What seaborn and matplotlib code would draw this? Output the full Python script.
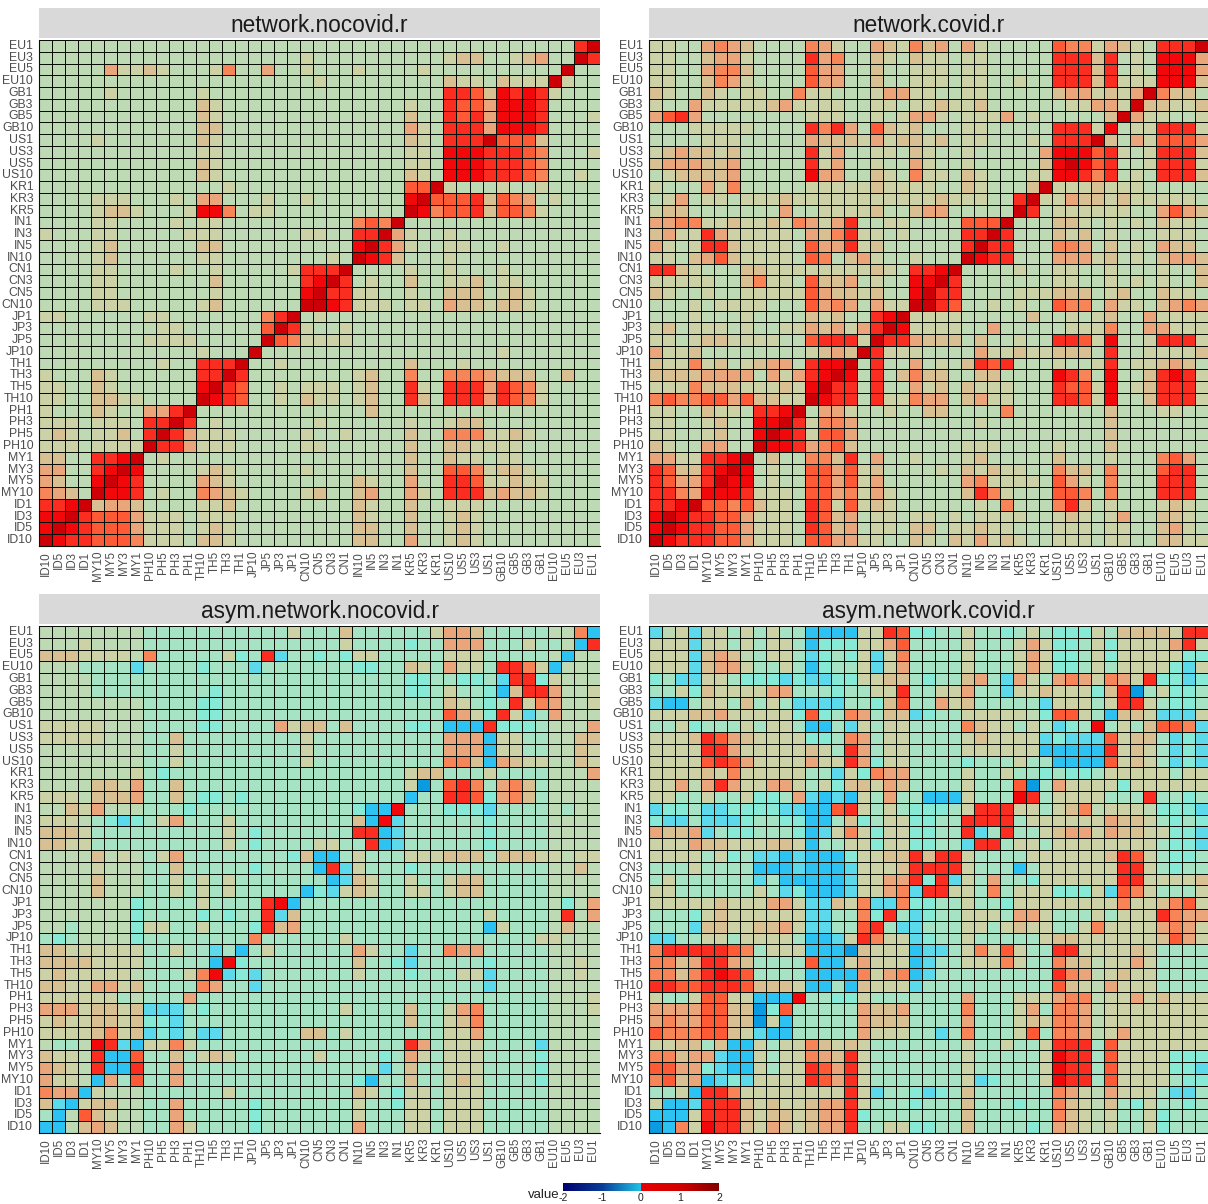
import numpy as np
import pandas as pd
import seaborn as sns
import matplotlib.pyplot as plt
from matplotlib.cm import ScalarMappable
from matplotlib.colors import LinearSegmentedColormap, Normalize, to_hex

# row labels, top to bottom. the x axis is the same list reversed
LABELS = ["EU1", "EU3", "EU5", "EU10", "GB1", "GB3", "GB5", "GB10", "US1", "US3", "US5", "US10",
          "KR1", "KR3", "KR5", "IN1", "IN3", "IN5", "IN10", "CN1", "CN3", "CN5", "CN10",
          "JP1", "JP3", "JP5", "JP10", "TH1", "TH3", "TH5", "TH10", "PH1", "PH3", "PH5", "PH10",
          "MY1", "MY3", "MY5", "MY10", "ID1", "ID3", "ID5", "ID10"]

# cell values, one character per cell, spaces split the country groups
CODES = {"e": -0.6, "d": -0.4, "c": -0.25, "b": -0.12, "a": -0.05, "0": 0.0, "1": 0.05, "2": 0.12,
         "3": 0.2, "4": 0.3, "5": 0.4, "6": 0.55, "7": 0.7, "8": 0.9}

NETWORK_NOCOVID = [
    "0000 0000 0000 0000 0000 0000 0000 000 0000 0000 0068",
    "0000 0000 0000 0000 0000 1000 0000 000 1220 0123 0086",
    "0000 0311 2100 0140 0300 1000 1000 010 0000 0000 0800",
    "0000 0000 0000 0000 0000 0100 0000 000 2110 2111 8100",
    "0000 0100 0000 1000 0000 0000 0000 000 6652 7676 1000",
    "0000 0000 0000 2100 0000 0000 0000 100 6553 7776 0000",
    "0000 0000 0000 2100 0000 0000 0000 200 6563 7776 0001",
    "0000 0000 0000 2200 0000 0000 0000 310 6663 7776 0000",
    "0000 1000 0000 2100 0000 0000 0000 210 6668 5552 0000",
    "0000 0000 0000 1100 0000 0000 0000 110 7776 6654 0001",
    "0000 0000 0000 2100 0000 0000 0000 110 7776 6654 0000",
    "0000 0000 0000 2100 0000 0000 0000 210 7776 6654 0010",
    "0000 0000 0000 0010 0000 0000 0000 558 1000 1001 0000",
    "0000 1110 0010 3300 0100 1000 0000 785 5562 5430 1000",
    "0000 1221 0001 7740 1100 0000 0000 874 5562 5541 0000",
    "0000 1100 0010 1100 0000 0000 4548 000 0000 0000 0000",
    "1000 1100 0001 1100 0000 1100 6683 100 1000 0000 0000",
    "0000 1200 0000 2200 0000 0000 7863 100 1100 1000 0000",
    "0000 1200 0000 1100 0000 0010 8762 000 1000 0000 0000",
    "0000 1100 0010 0100 0001 6668 0000 100 1000 1000 0000",
    "0000 1100 0000 0200 0000 6786 0100 200 1120 1100 0000",
    "0000 1100 0000 0100 0000 7866 1100 100 2220 1210 0000",
    "0000 1110 0000 1200 0000 8876 1110 110 3221 2210 0000",
    "1100 0000 1100 0000 0468 0100 0000 000 0000 0000 0000",
    "0000 0000 0110 0000 0586 1001 0000 000 0000 0000 0000",
    "0000 0000 1111 0000 0854 1111 0000 000 0000 0000 0000",
    "0000 0000 0000 1000 8000 0000 0000 000 0000 1000 0000",
    "0000 0000 0100 6668 0010 0000 0000 200 0100 0000 0000",
    "1000 2100 0000 6686 0000 0000 1200 400 4443 2220 0200",
    "1100 2100 0000 7865 0010 1110 1200 610 6663 6541 0000",
    "1100 2211 0000 8765 0010 2110 1200 620 6663 6541 0000",
    "1000 2100 3368 0000 0000 0000 0200 000 0000 0000 0000",
    "1110 1110 6686 0100 0000 0100 0000 100 1220 0000 0000",
    "1210 1120 6863 1110 0000 1001 0000 200 4441 1210 0000",
    "1110 1111 8663 1110 0000 1100 0000 200 2211 1100 0000",
    "2200 6678 0100 0000 0000 0000 0000 200 2110 1100 0000",
    "3300 6787 0000 1210 0000 1000 0000 200 5541 2210 0000",
    "3200 7876 0000 3210 0000 0000 2100 300 6651 1211 0000",
    "4320 8776 0100 4321 0000 1200 2300 310 6662 3221 0000",
    "6678 2332 0000 1120 0000 0000 2100 200 1110 0000 0000",
    "7786 5553 1110 1110 0000 0000 2100 200 1210 0000 0000",
    "7876 5553 1110 1210 0000 0000 2200 200 1210 0000 0000",
    "8766 5554 1110 2210 0000 0000 2200 300 1210 0000 0000",
]

NETWORK_COVID = [
    "1100 3432 0000 4310 0321 4230 3100 000 5441 3210 6668",
    "1100 2331 0000 6340 0210 2110 1100 000 6662 6010 7773",
    "1100 3442 0000 5330 0200 1110 1100 000 6662 6010 7773",
    "1100 2431 0000 5330 0200 1110 1100 100 6662 6111 7772",
    "2100 2101 1004 1100 0133 1100 1100 000 2331 2138 4220",
    "1003 1111 1231 1110 0110 1121 1200 000 0113 3182 2112",
    "3563 0000 0000 1110 0101 3310 1113 010 0000 2831 1001",
    "0001 1111 0000 6463 0521 2000 1100 000 6661 7011 6661",
    "0000 1110 0000 3222 1312 2120 1100 010 6668 2031 5553",
    "1232 2120 0000 6130 0110 2100 1000 003 7775 6101 6662",
    "2333 2230 0000 6130 0100 3100 1000 002 7875 6001 6661",
    "0122 2230 0000 7330 0210 4110 2100 011 7764 6010 6662",
    "1000 3140 0000 1111 1211 1100 2100 028 1112 1110 0000",
    "0130 1101 1121 1111 1111 1121 1100 681 1322 1211 1110",
    "1220 0000 0030 0111 1200 2330 0000 860 1111 1100 3532",
    "3344 1121 1214 3136 0011 0000 5558 000 2210 1010 2110",
    "2311 6311 1110 3246 1101 0000 6686 000 2120 1000 1110",
    "3101 6621 1110 5336 1200 0000 6866 000 4430 2010 3220",
    "1102 3521 1110 5402 3100 1000 8766 000 3331 2010 2332",
    "6621 0002 2111 1111 1210 6678 0000 100 1100 1000 1002",
    "1111 1002 4110 5223 0100 7786 0000 000 1100 1010 1002",
    "2100 1001 1111 5322 1200 7866 0000 111 2220 1200 2110",
    "0001 0111 1000 5343 0311 8865 0010 100 5440 3110 2343",
    "0001 0001 0000 2120 0678 1111 0000 020 0101 2003 1111",
    "1201 1101 0011 3231 3687 1111 0030 000 0111 4003 3111",
    "1101 2211 1100 5666 1866 3222 0200 100 6651 7001 6661",
    "3112 0000 0000 1232 8611 1000 0311 211 2220 6001 1112",
    "2114 1201 2330 6778 0600 3010 2656 000 1001 6011 2320",
    "2222 3333 0313 6787 0602 4220 0220 000 7640 7002 6761",
    "1114 2221 1121 7866 0600 3120 2111 000 6551 7012 6661",
    "4544 5535 2211 8766 0611 4330 2311 000 6651 7002 6661",
    "1100 2110 6678 0331 0010 0220 0004 000 0000 2000 1100",
    "1100 1200 7786 1443 0000 0000 0100 000 0000 2000 0000",
    "1100 1200 7876 1553 0000 0000 0000 000 0000 2000 0000",
    "2100 3300 8776 3452 0000 0000 1110 000 1000 2000 0000",
    "3311 6678 0200 4426 0300 1000 1200 000 2000 1000 4530",
    "6522 6787 0100 5535 1200 0010 2121 100 4220 4000 5660",
    "6533 6877 0100 5535 1300 0000 3411 110 5310 4000 6660",
    "6643 7776 1110 5534 1310 0000 2641 000 5540 4000 6660",
    "6678 5545 2110 6515 1210 0000 0104 000 4620 1000 1210",
    "7876 6553 1110 6523 0110 1101 0111 100 1210 1300 2210",
    "7876 6553 1110 6523 0110 2201 1211 000 1110 1100 2310",
    "8766 6553 1110 5533 1100 2102 1312 100 1110 1100 2211",
]

ASYM_NOCOVID = [
    "0000 0000 aaaa aaaa aaa1 aaa2 aaaa aa1 332a aaaa 004d",
    "0001 0000 aaaa aaaa aaaa aaa1 aaaa baa 333a aa1a a0d6",
    "2221 1110 4aaa aa1b a6ca abab 11aa aaa 111a aaaa 0d00",
    "000a aaac aaaa baaa caaa aaaa bbaa 21a 311a 6641 d000",
    "0000 aaaa aaaa aaaa aaaa aaaa aaaa bba abba c66b 1000",
    "0000 aaaa aaaa abaa aaaa aaaa aaaa bba 1aab d266 3001",
    "0000 0000 aaaa bbaa aaaa aaaa aaaa aaa 21ab a614 3001",
    "0000 0000 aaaa bbaa aaaa aaaa aaaa aaa 531b 61ca 3000",
    "1111 1000 aaaa bbaa aa31 22a2 aaaa bba ddd6 bbba 0003",
    "1111 1000 aa2a aaaa aaaa 1aaa aaaa aaa 333d 11aa 0022",
    "0000 0000 aa1a aaaa aaaa 1aaa aaaa aaa 333d 11aa 0021",
    "0000 0000 aa1a aaaa aaaa 1aaa aaaa aaa 442d 3211 0021",
    "0000 0001 abaa aaaa aaaa aaaa aaaa 122 aaa1 aaaa 0003",
    "0000 2213 aa2a aaaa aaaa aaaa aaaa 1ea 564a 342a 0000",
    "1110 2223 aa2a bbab aaaa aaaa aaaa daa 665b 342a 0000",
    "0021 3000 aaab aaaa aaaa aaaa bdd7 aaa bbbc aaaa 0a00",
    "1110 abcb a13a aa1a aaaa aaaa 2d7c aaa aaab aaaa 0000",
    "2221 aaaa aaaa aa1a baaa aaaa 66dc aaa aaab aaaa 0000",
    "2211 aaaa aaaa aa1a baaa a11a a6dc aaa aaab aaaa 0000",
    "0000 2010 a13a aaaa aaab 2dda 1aaa 111 222a 2221 1011",
    "0000 1000 aa2a aaaa baaa ad6c 1aaa baa aaaa aaaa 0020",
    "0000 2000 aa1a 1a1a aaaa aadc 21aa 1aa 122a aaaa 0000",
    "0000 2000 aa1a 1a1a aaaa dbc1 21aa 11a 122a aaaa 0000",
    "0000 000b aaaa 1aaa a67d aaaa aaaa aaa aaaa aaaa 0b03",
    "0000 000b aaaa baba a6c2 aaaa aaaa aaa aaa1 aaaa 0603",
    "00a0 000b 11aa 1aaa b623 aaaa aaaa aaa aaad 1aaa 0200",
    "aba0 000b aaaa aaaa 4aaa aaa1 aaaa aaa aaaa aaa1 1000",
    "2211 1111 aa1a acad a1aa aaaa 31aa caa 433a aaaa 0000",
    "2222 1111 aaaa ad7b aaaa aaaa 2aab caa aaab aaaa 0010",
    "1211 1110 aaa1 47cb caaa aaaa 1aaa baa a11c aaaa 0010",
    "2211 3312 aaaa 43aa caaa aaaa aaaa aaa aaac aaaa 0000",
    "1111 11a0 aaa3 aaaa aaaa aaaa aaaa aaa aaaa aaaa 0001",
    "3331 2212 ccca baaa aaaa aaa1 aaaa 2aa 134a aaaa 0001",
    "1211 2212 bbca aaaa aaaa aaaa aaaa 2aa 124a aaaa 0000",
    "1111 2412 cbca ccaa aaaa 22a1 aaaa aaa 113a aaaa 0000",
    "0aa0 76cd 1141 aaaa aaaa aaaa aaaa 63a 111a aaac 0000",
    "2110 6dd5 aa2a 121a aaaa a1aa aaba 31a 111a aaab 0000",
    "3210 6dd6 aa3a aaaa aaaa aaaa aaca 2aa 111a aaab 0000",
    "3110 d3a5 aa3a aaaa aaaa aaaa bdaa 2aa 121a aaab 0000",
    "433d 1000 aaaa aa1a aaaa aaaa 21ab 11a 111a aaaa 0000",
    "2cd1 2200 aa3a aaaa baaa aaaa 1aab 11a 111a aaaa 0000",
    "ad05 2100 aa3a aaaa baaa aaaa 1aaa 11a 111a aaaa 0000",
    "dd02 3200 aa31 aaaa baaa aaaa 3aaa 11a 111a aaaa 0000",
]

ASYM_COVID = [
    "c01c 11a1 a1aa dddd 1165 bbaa 1aab a1a bbb1 a222 2166",
    "111c 11a1 a11a dbbb 1135 aaaa 1aaa 131 bba1 b111 1361",
    "111c 2320 a11a cbab 1c14 aaaa 1aaa 131 bba1 b111 11bb",
    "111c 2331 aa1a dbaa 1c13 aaaa 1aaa 131 bba1 a111 1bc1",
    "bacc 11ab bbcb ccbb 1122 abaa 23ac 31a 3431 4316 bbcb",
    "aa1b 2111 133a aaba a116 aa11 3aac 112 111b 26ea 1bba",
    "cdda 11a2 a1ac ccca ab25 aa31 2aaa aac 111a 1661 abba",
    "1112 2311 111b 5ba4 3a22 cbaa 1111 10b 551a d221 ccc1",
    "aa1b aaa1 a11a ddac 1a11 aaaa 4211 a1a cba7 a1a2 554c",
    "1112 6532 1111 bba4 3a11 aaaa 1211 11c bccc 5122 acbc",
    "1111 6631 1111 21a6 3a11 aaaa 1111 11d dddd 6121 acbc",
    "1111 5653 1111 3116 3b11 aaaa baaa 1aa dddd 5121 acbc",
    "1111 2141 1111 aac1 b433 aaaa 1aa1 aab abba 1111 1a11",
    "1130 3631 1331 a1b2 2132 aaaa 1aaa 5ea 3111 1b11 1111",
    "11aa 1aa1 bba3 cdcd 1a3a addd 1aaa 76a 1111 aaa6 aaba",
    "cbba ccbb bbcc dd56 1a1a bbba 1666 11a 1240 1110 bbbc",
    "bcca cccb aabb dda2 ba11 bbaa 6666 a11 1111 3221 abab",
    "3223 cabb aaab dc14 1b11 bbaa 6ca6 aa1 2331 3221 1bbc",
    "1113 2211 1221 daa1 1b11 bbaa c66a 11a 1111 1111 abbc",
    "1111 a1ba ccdc dddb 1122 6266 1aaa a11 1111 2651 abba",
    "aaa1 aaaa dddc dddc 1112 6666 1aaa da1 1111 1661 abaa",
    "a1aa aaaa cadd dddc 1133 6b6c 1a3a ab1 1111 1661 1112",
    "11aa aaaa 1acb dddc 1134 c661 1a4a 111 bbb1 c541 aaa1",
    "1111 1211 1331 cc21 4cc4 bbaa 1aab 111 1111 1411 2451",
    "aaab 1211 1111 ccaa 4b6a cbaa 111a 331 aaa1 a111 6433",
    "aaac 2211 2231 ccaa 56ac caaa 11a1 211 aa14 1111 3431",
    "ccaa 11a1 111a ddc1 6411 cbaa 1aaa aa1 2211 1111 2531",
    "4666 6654 a111 ddde 2111 dcca 1415 1aa 6611 1121 aaaa",
    "4423 6632 aaaa 5dd1 3111 dcaa 1114 1aa 4220 1131 aaaa",
    "4424 6765 aaaa dddd 4134 dcaa aaaa aaa 6430 1211 aaaa",
    "6655 6665 2221 ddad 2111 caaa aaaa aaa 5210 3111 aaaa",
    "1aa1 5511 ddd7 aabb 1aaa aaaa 3aaa 111 3440 1131 2111",
    "3333 5522 eb5a aaaa 3223 aaaa 4aaa 13a 4430 1111 1111",
    "3433 5522 e1da aaaa 3222 aaaa 3aaa 121 4430 1111 1111",
    "5444 5521 cdda aaaa 3111 aaca 4aaa 15a 4430 1311 1111",
    "1122 a2dd 1a11 4212 1aaa aaaa 1aa1 aa1 666a 5111 1111",
    "4423 3cdd 1a11 4326 1aaa aaaa 1aaa aa1 766a 5111 1bbb",
    "5533 bcdd 1a11 6536 1aaa aaaa 1aaa aa1 766a 5111 1bbc",
    "4523 dcbc 1111 6536 1aaa aaaa 1cba aa1 766a 5111 1abb",
    "aa1d 6641 1111 1116 1caa bcba 2aaa aaa 4310 3111 acca",
    "1ddc 6662 1211 2336 1aaa baaa 2aaa baa 4210 2ab1 aaba",
    "ddd1 6662 1221 2336 baaa aaaa 2aaa aaa 4210 1aa1 baaa",
    "ed41 7662 1321 2336 aa11 bbaa 2aaa aba 3210 1aa1 baaa",
]

PANELS = [("network.nocovid.r", NETWORK_NOCOVID), ("network.covid.r", NETWORK_COVID),
          ("asym.network.nocovid.r", ASYM_NOCOVID), ("asym.network.covid.r", ASYM_COVID)]

WIDTH, HEIGHT = 1208, 1204
BOXES = [(39, 600, 40, 546), (649, 1208, 40, 546), (39, 600, 626, 1133), (649, 1208, 626, 1133)]

# colours of the tiles
CELL_STOPS = [(-2.0, "#000078"), (-1.0, "#005aaa"), (-0.6, "#0a9be0"), (-0.4, "#2cc3f2"), (-0.25, "#5cdaec"),
              (-0.12, "#86ead6"), (-0.05, "#a6e2c4"), (0.0, "#bedab4"), (0.05, "#ccd2a6"), (0.12, "#d8c092"),
              (0.2, "#eaa67a"), (0.3, "#f78558"), (0.4, "#fe5a36"), (0.55, "#fb2c20"), (0.7, "#f2080a"),
              (0.9, "#cc0006"), (2.0, "#820000")]
# the legend bar jumps from cyan straight to red at zero
LEGEND_STOPS = [(0.0, "#00006e"), (0.25, "#0a3c96"), (0.4999, "#1ec3e6"), (0.5, "#e60000"),
                (0.75, "#d20000"), (1.0, "#820000")]


def make_frame(rows):
    # Turns the coded rows into a labelled table of values
    values = []
    for label, row in zip(LABELS, rows):
        cells = row.replace(" ", "")
        if len(cells) != len(LABELS):
            raise ValueError(f"{label}: {len(cells)} cells")
        values.append([CODES[c] for c in cells])
    return pd.DataFrame(values, index=LABELS, columns=LABELS[::-1])


def axes_box(left, right, top, bottom):
    return [left / WIDTH, 1 - bottom / HEIGHT, (right - left) / WIDTH, (bottom - top) / HEIGHT]


def plot_panel(fig, box, title, rows, cmap):
    ax = fig.add_axes(axes_box(*box))
    sns.heatmap(make_frame(rows), ax=ax, cmap=cmap, vmin=-2, vmax=2, cbar=False,
                linewidths=0.6, linecolor="#0a0f05", xticklabels=True, yticklabels=True)
    ax.set_xlabel("")
    ax.set_ylabel("")
    ax.tick_params(axis="both", length=3, width=0.8, color="#333333", labelcolor="#4d4d4d",
                   labelsize=8.8, pad=1.2)
    ax.tick_params(axis="x", labelrotation=90, labelsize=8.4, pad=0.6)
    ax.tick_params(axis="y", labelrotation=0)
    for side in ("left", "bottom"):
        ax.spines[side].set_visible(True)
        ax.spines[side].set_color("#0a0f05")
        ax.spines[side].set_linewidth(0.8)
    left, right, top, _ = box
    strip = fig.add_axes(axes_box(left, right, top - 32, top - 2))
    strip.set_facecolor("#d9d9d9")
    strip.set_xticks([])
    strip.set_yticks([])
    for spine in strip.spines.values():
        spine.set_visible(False)
    strip.text(0.5, 0.41, title, transform=strip.transAxes, ha="center", va="center",
               fontsize=16.3, color="#1a1a1a")


def plot_legend(fig):
    cmap = LinearSegmentedColormap.from_list("legend", LEGEND_STOPS, N=512)
    cax = fig.add_axes(axes_box(563, 719, 1183, 1191))
    bar = fig.colorbar(ScalarMappable(Normalize(-2, 2), cmap), cax=cax, orientation="horizontal",
                       ticks=[-2, -1, 0, 1, 2])
    bar.outline.set_visible(False)
    cax.tick_params(length=0, labelsize=7.5, pad=1.5, labelcolor="#222222")
    bar.set_ticklabels(["-2", "-1", "0", "1", "2"])
    fig.text(528 / WIDTH, 1 - 1195 / HEIGHT, "value", fontsize=9.5, color="#222222", ha="left", va="center")


def run():
    sns.set_theme(style="white")
    plt.rcParams["font.family"] = ["Liberation Sans", "DejaVu Sans"]
    cmap = LinearSegmentedColormap.from_list(
        "cells", [((v + 2) / 4, to_hex(c)) for v, c in CELL_STOPS], N=2048)
    fig = plt.figure(figsize=(WIDTH / 100, HEIGHT / 100), dpi=100)
    for box, (title, rows) in zip(BOXES, PANELS):
        plot_panel(fig, box, title, rows, cmap)
    plot_legend(fig)
    fig.savefig("out.png", dpi=100)
    plt.close(fig)


if __name__ == "__main__":
    run()
